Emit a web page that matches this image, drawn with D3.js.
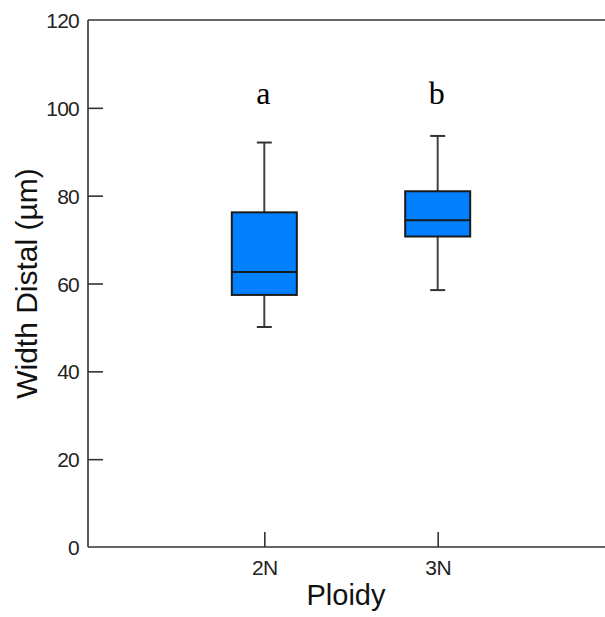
<!DOCTYPE html>
<html>
<head>
<meta charset="utf-8">
<script src="https://cdn.jsdelivr.net/npm/d3@7"></script>
<style>
  html, body { margin: 0; padding: 0; background: #fff; }
  svg { display: block; }
</style>
</head>
<body>
<svg id="chart" width="605" height="617"></svg>
<script>
// Width distal by ploidy: box summaries
const categories = ["2N", "3N"];
const whiskerLow = [50.1, 58.5];
const q1 = [57.4, 70.7];
const median = [62.6, 74.4];
const q3 = [76.2, 81.0];
const whiskerHigh = [92.1, 93.6];
const groupLetters = ["a", "b"];
const yTicks = [0, 20, 40, 60, 80, 100, 120];

const svg = d3.select("#chart");
const plotLeft = 88, plotRight = 614, plotTop = 20, plotBottom = 547;

const x = d3.scalePoint().domain(categories).range([plotLeft, plotRight]).padding(1.017);
const y = d3.scaleLinear().domain([0, 120]).range([plotBottom, plotTop]);

const axisColor = "#333";
const boxW = 65, capW = 15;

// Frame: left, top and bottom lines
svg.append("line").attr("x1", plotLeft).attr("x2", plotLeft).attr("y1", plotTop).attr("y2", plotBottom)
  .attr("stroke", axisColor).attr("stroke-width", 1.6);
svg.append("line").attr("x1", plotLeft).attr("x2", plotRight).attr("y1", plotTop).attr("y2", plotTop)
  .attr("stroke", axisColor).attr("stroke-width", 1.6);
svg.append("line").attr("x1", plotLeft).attr("x2", plotRight).attr("y1", plotBottom).attr("y2", plotBottom)
  .attr("stroke", axisColor).attr("stroke-width", 1.6);

// Y axis with inward ticks
const yAxis = d3.axisLeft(y).tickValues(yTicks).tickSize(-15).tickPadding(0).tickFormat(d3.format("d"));
const gy = svg.append("g").attr("transform", `translate(${plotLeft},0)`).call(yAxis);
gy.select(".domain").remove();
gy.selectAll(".tick line").attr("stroke", axisColor).attr("stroke-width", 1.6)
  .filter(d => d === 0 || d === 120).remove();
gy.selectAll(".tick text")
  .attr("x", -9)
  .attr("dy", "0.36em")
  .attr("fill", "#222")
  .style("font-family", "'Liberation Sans', Arial, sans-serif")
  .style("font-size", "21px")
  .style("letter-spacing", "-0.8px");

// X axis with inward ticks
const xAxis = d3.axisBottom(x).tickSize(-15).tickPadding(0);
const gx = svg.append("g").attr("transform", `translate(0,${plotBottom})`).call(xAxis);
gx.select(".domain").remove();
gx.selectAll(".tick line").attr("stroke", axisColor).attr("stroke-width", 1.6);
gx.selectAll(".tick text")
  .attr("y", 13)
  .attr("dy", "0.71em")
  .attr("fill", "#222")
  .style("font-family", "'Liberation Sans', Arial, sans-serif")
  .style("font-size", "21px")
  .style("letter-spacing", "-0.5px");

// Boxes
const groups = svg.append("g").selectAll("g").data(categories).join("g");

groups.append("line")
  .attr("x1", d => x(d)).attr("x2", d => x(d))
  .attr("y1", (d, i) => y(whiskerLow[i])).attr("y2", (d, i) => y(whiskerHigh[i]))
  .attr("stroke", "#444").attr("stroke-width", 2);
groups.append("line")
  .attr("x1", d => x(d) - capW / 2).attr("x2", d => x(d) + capW / 2)
  .attr("y1", (d, i) => y(whiskerLow[i])).attr("y2", (d, i) => y(whiskerLow[i]))
  .attr("stroke", "#333").attr("stroke-width", 2);
groups.append("line")
  .attr("x1", d => x(d) - capW / 2).attr("x2", d => x(d) + capW / 2)
  .attr("y1", (d, i) => y(whiskerHigh[i])).attr("y2", (d, i) => y(whiskerHigh[i]))
  .attr("stroke", "#333").attr("stroke-width", 2);
groups.append("rect")
  .attr("x", d => x(d) - boxW / 2).attr("width", boxW)
  .attr("y", (d, i) => y(q3[i])).attr("height", (d, i) => y(q1[i]) - y(q3[i]))
  .attr("fill", "#0080ff").attr("stroke", "#1a1a1a").attr("stroke-width", 2);
groups.append("line")
  .attr("x1", d => x(d) - boxW / 2).attr("x2", d => x(d) + boxW / 2)
  .attr("y1", (d, i) => y(median[i])).attr("y2", (d, i) => y(median[i]))
  .attr("stroke", "#1a1a1a").attr("stroke-width", 2);

// Significance letters
svg.append("g").selectAll("text").data(categories).join("text")
  .attr("x", d => x(d) - 1)
  .attr("y", 103.5)
  .attr("text-anchor", "middle")
  .attr("fill", "#000")
  .style("font-family", "'Liberation Serif', 'Times New Roman', serif")
  .style("font-size", "32px")
  .text((d, i) => groupLetters[i]);

// Axis titles
svg.append("text")
  .attr("transform", `translate(37,${(plotTop + plotBottom) / 2}) rotate(-90)`)
  .attr("text-anchor", "middle")
  .attr("fill", "#111")
  .style("font-family", "'Liberation Sans', Arial, sans-serif")
  .style("font-size", "30px")
  .text("Width Distal (µm)");

svg.append("text")
  .attr("x", 346)
  .attr("y", 605)
  .attr("text-anchor", "middle")
  .attr("fill", "#111")
  .style("font-family", "'Liberation Sans', Arial, sans-serif")
  .style("font-size", "29px")
  .text("Ploidy");
</script>
</body>
</html>
